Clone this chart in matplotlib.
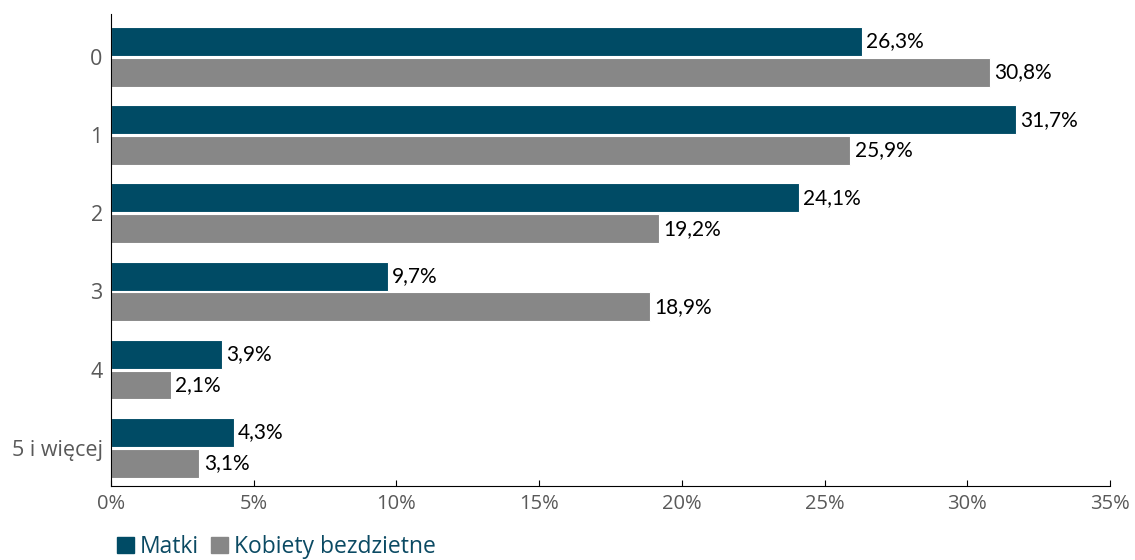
import matplotlib
matplotlib.use('Agg')
import matplotlib.pyplot as plt
import numpy as np
from matplotlib.patches import Patch

# data
categories = ['0', '1', '2', '3', '4', '5 i więcej']
matki = [26.3, 31.7, 24.1, 9.7, 3.9, 4.3]
bezdzietne = [30.8, 25.9, 19.2, 18.9, 2.1, 3.1]
series_names = ['Matki', 'Kobiety bezdzietne']

c_teal = '#004b65'
c_grey = '#878787'

fig = plt.figure(figsize=(11.35, 5.6), dpi=100)
ax = fig.add_axes([0.0978, 0.132, 0.8802, 0.843])

y = np.arange(len(categories))
h = 0.37
off = h / 2 + 0.012
ax.barh(y - off, matki, height=h, color=c_teal, edgecolor='white', linewidth=0.8)
ax.barh(y + off, bezdzietne, height=h, color=c_grey, edgecolor='white', linewidth=0.8)

for yi, v in zip(y, matki):
    ax.text(v + 0.15, yi - off, f'{v:.1f}%'.replace('.', ','), va='center', ha='left',
            fontsize=15, family='Lato', color='black')
for yi, v in zip(y, bezdzietne):
    ax.text(v + 0.15, yi + off, f'{v:.1f}%'.replace('.', ','), va='center', ha='left',
            fontsize=15, family='Lato', color='black')

ax.set_xlim(0, 35)
ax.set_ylim(len(categories) - 0.51, -0.55)
ax.set_xticks(np.arange(0, 36, 5))
ax.set_xticklabels([f'{t}%' for t in range(0, 36, 5)])
ax.set_yticks(y)
ax.set_yticklabels(categories)

for s in ['top', 'right']:
    ax.spines[s].set_visible(False)
ax.spines['left'].set_color('black')
ax.spines['bottom'].set_color('black')
ax.tick_params(axis='x', direction='in', length=4, colors='#595959', labelsize=14.5, pad=6)
ax.tick_params(axis='x', color='black')
ax.tick_params(axis='y', length=0, colors='#595959', labelsize=15.5, pad=6)
for lab in ax.get_xticklabels() + ax.get_yticklabels():
    lab.set_family('Open Sans')

handles = [Patch(color=c_teal), Patch(color=c_grey)]
leg = fig.legend(handles, series_names, loc='lower left', bbox_to_anchor=(0.085, -0.035),
                 ncol=2, frameon=False, prop={'family': 'Open Sans', 'size': 16.5},
                 handlelength=0.75, handleheight=0.75, handletextpad=0.25, columnspacing=0.5)
for t in leg.get_texts():
    t.set_color('#0b4a63')

fig.savefig('out.png', dpi=100)
